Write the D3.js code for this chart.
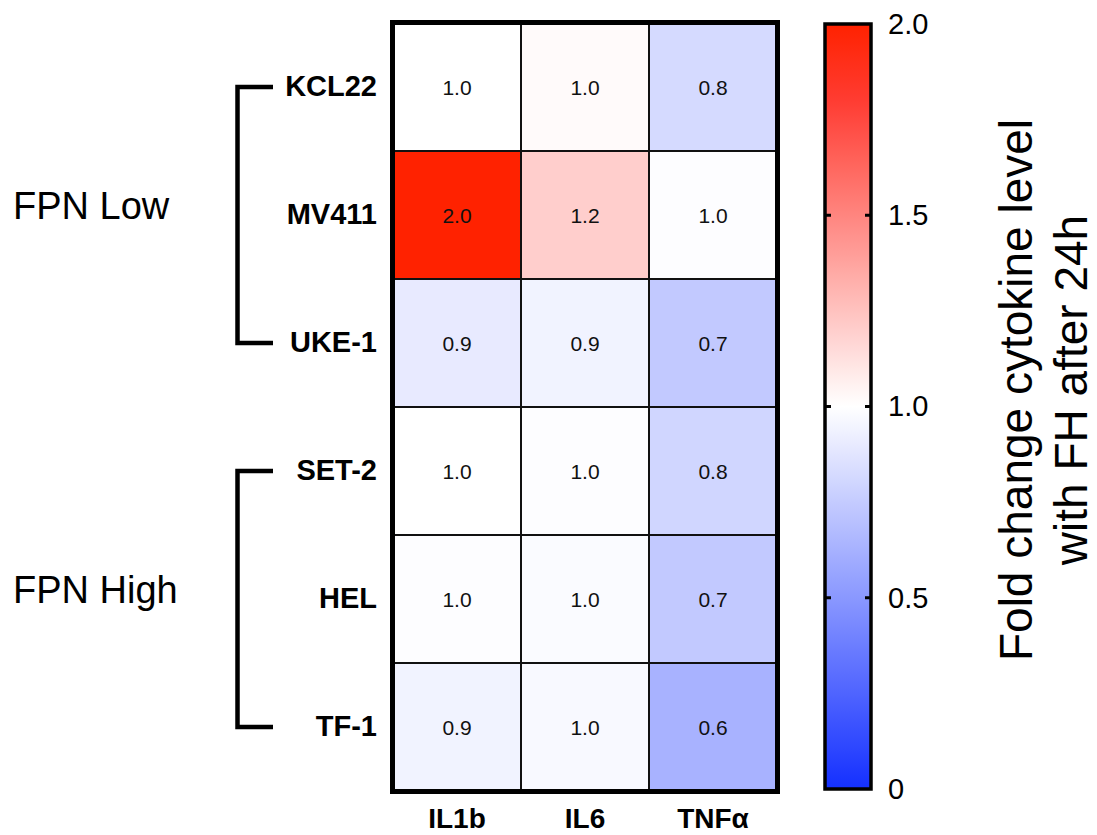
<!DOCTYPE html>
<html>
<head>
<meta charset="utf-8">
<script src="https://cdn.jsdelivr.net/npm/d3@7"></script>
<style>
  html, body { margin: 0; padding: 0; background: #fff; }
  svg { display: block; font-family: Arial, "Liberation Sans", Helvetica, sans-serif; }
</style>
</head>
<body>
<svg id="chart" width="1097" height="835"></svg>
<script>
// Cell lines (rows) and cytokines (columns)
const cellLines = ["KCL22", "MV411", "UKE-1", "SET-2", "HEL", "TF-1"];
const cytokines = ["IL1b", "IL6", "TNFα"];

// Fold change per cell line, in cytokine order
const il1bValues = [1.00, 2.00, 0.90, 1.00, 0.99, 0.94];
const il6Values  = [1.02, 1.20, 0.94, 0.99, 0.98, 0.97];
const tnfaValues = [0.82, 0.99, 0.74, 0.80, 0.74, 0.63];

// Row groups with first and last member
const groupNames = ["FPN Low", "FPN High"];
const groupFirst = ["KCL22", "SET-2"];
const groupLast  = ["UKE-1", "TF-1"];

// Colour bar ticks
const scaleTicks = [0, 0.5, 1.0, 1.5, 2.0];
const scaleTickLabels = ["0", "0.5", "1.0", "1.5", "2.0"];

const colTable = [il1bValues, il6Values, tnfaValues];
const cells = [];
cytokines.forEach((c, j) => {
  cellLines.forEach((r, i) => {
    cells.push({ row: r, col: c, value: colTable[j][i] });
  });
});

const svg = d3.select("#chart");

const x = d3.scaleBand().domain(cytokines).range([393, 777]);
const y = d3.scaleBand().domain(cellLines).range([23, 791]);

// Blue - white - red diverging ramp centred on 1.0
const color = d3.scaleLinear()
  .domain([0, 1, 1.8, 2])
  .range(["#1430ff", "#ffffff", "#ff3c32", "#ff2200"])
  .interpolate(d3.interpolateRgb)
  .clamp(true);

const fmt = d3.format(".1f");

// Heatmap cells
const g = svg.append("g");
g.selectAll("rect.cell")
  .data(cells)
  .join("rect")
  .attr("class", "cell")
  .attr("x", d => x(d.col))
  .attr("y", d => y(d.row))
  .attr("width", x.bandwidth())
  .attr("height", y.bandwidth())
  .attr("fill", d => color(d.value))
  .attr("stroke", "#111")
  .attr("stroke-width", 2);

g.selectAll("text.val")
  .data(cells)
  .join("text")
  .attr("class", "val")
  .attr("x", d => x(d.col) + x.bandwidth() / 2)
  .attr("y", d => y(d.row) + y.bandwidth() / 2)
  .attr("text-anchor", "middle")
  .attr("dominant-baseline", "central")
  .attr("font-size", 21)
  .attr("fill", "#111")
  .text(d => fmt(d.value));

// Heavy outer frame
g.append("rect")
  .attr("x", x.range()[0] - 0.5)
  .attr("y", y.range()[0] - 0.5)
  .attr("width", x.range()[1] - x.range()[0] + 1)
  .attr("height", y.range()[1] - y.range()[0] + 1)
  .attr("fill", "none")
  .attr("stroke", "#000")
  .attr("stroke-width", 5);

// Row labels
const yAxis = d3.axisLeft(y).tickSize(0).tickPadding(16);
svg.append("g")
  .attr("transform", `translate(${x.range()[0]},0)`)
  .call(yAxis)
  .call(a => a.select(".domain").remove())
  .selectAll("text")
  .attr("font-size", 29)
  .attr("font-weight", "bold")
  .attr("font-family", "Arial, 'Liberation Sans', sans-serif")
  .attr("fill", "#000");

// Column labels
const xAxis = d3.axisBottom(x).tickSize(0).tickPadding(0);
svg.append("g")
  .attr("transform", `translate(0,${y.range()[1]})`)
  .call(xAxis)
  .call(a => a.select(".domain").remove())
  .selectAll("text")
  .attr("y", 37)
  .attr("dy", null)
  .attr("font-size", 28)
  .attr("font-weight", "bold")
  .attr("font-family", "Arial, 'Liberation Sans', sans-serif")
  .attr("fill", "#000");

// Group brackets and labels
const bx = 237.5, bx2 = 273;
groupNames.forEach((name, k) => {
  const y0 = y(groupFirst[k]) + y.bandwidth() / 2;
  const y1 = y(groupLast[k]) + y.bandwidth() / 2;
  svg.append("path")
    .attr("d", `M${bx2},${y0}H${bx}V${y1}H${bx2}`)
    .attr("fill", "none")
    .attr("stroke", "#000")
    .attr("stroke-width", 4.5);
  svg.append("text")
    .attr("x", 13)
    .attr("y", (y0 + y1) / 2 + 4)
    .attr("font-size", 38)
    .attr("fill", "#000")
    .text(name);
});

// Colour bar
const cbX = 825, cbW = 46;
const cbScale = d3.scaleLinear().domain([0, 2]).range([789, 24]);

const defs = svg.append("defs");
const grad = defs.append("linearGradient")
  .attr("id", "cbGrad")
  .attr("x1", 0).attr("y1", 1).attr("x2", 0).attr("y2", 0);
d3.range(0, 2.0001, 0.05).forEach(v => {
  grad.append("stop")
    .attr("offset", (v / 2 * 100) + "%")
    .attr("stop-color", color(v));
});

svg.append("rect")
  .attr("x", cbX)
  .attr("y", cbScale(2))
  .attr("width", cbW)
  .attr("height", cbScale(0) - cbScale(2))
  .attr("fill", "url(#cbGrad)")
  .attr("stroke", "#000")
  .attr("stroke-width", 3.5);

// Inward tick marks on both edges of the bar
const innerTicks = scaleTicks.filter(t => t > 0 && t < 2);
svg.append("g").selectAll("path")
  .data(innerTicks)
  .join("path")
  .attr("d", t => `M${cbX},${cbScale(t)}h6M${cbX + cbW},${cbScale(t)}h-6`)
  .attr("stroke", "#000")
  .attr("stroke-width", 3);

const cbAxis = d3.axisRight(cbScale)
  .tickValues(scaleTicks)
  .tickFormat((d, i) => scaleTickLabels[i])
  .tickSize(0)
  .tickPadding(17);
svg.append("g")
  .attr("transform", `translate(${cbX + cbW},0)`)
  .call(cbAxis)
  .call(a => a.select(".domain").remove())
  .selectAll("text")
  .attr("font-size", 29)
  .attr("font-family", "Arial, 'Liberation Sans', sans-serif")
  .attr("fill", "#000");

// Colour bar title
const title = svg.append("text")
  .attr("transform", `translate(1032,390) rotate(-90)`)
  .attr("text-anchor", "middle")
  .attr("font-size", 46)
  .attr("fill", "#000");
title.append("tspan").attr("x", 0).attr("dy", 0).text("Fold change cytokine level");
title.append("tspan").attr("x", 0).attr("dy", 55).text("with FH after 24h");
</script>
</body>
</html>
